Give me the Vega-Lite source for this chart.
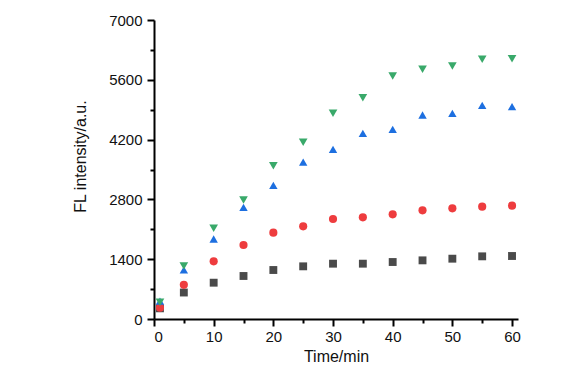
{
  "$schema": "https://vega.github.io/schema/vega-lite/v6.json",
  "width": 364,
  "height": 299,
  "autosize": {"type": "none"},
  "padding": {"left": 154, "top": 20, "right": 50, "bottom": 53},
  "background": "white",
  "config": {
    "view": {"stroke": null},
    "font": "Liberation Sans",
    "axis": {
      "domainColor": "black",
      "domainWidth": 2,
      "tickColor": "black",
      "tickWidth": 2,
      "grid": false,
      "labelColor": "#111111",
      "labelFont": "Liberation Sans",
      "labelFontSize": 15,
      "titleFont": "Liberation Sans",
      "titleFontSize": 16,
      "titleFontWeight": "normal",
      "titleColor": "#111111"
    }
  },
  "data": {
    "values": [
      {"series": "A", "time": 1, "fl": 250},
      {"series": "A", "time": 5, "fl": 620},
      {"series": "A", "time": 10, "fl": 850},
      {"series": "A", "time": 15, "fl": 1007},
      {"series": "A", "time": 20, "fl": 1147},
      {"series": "A", "time": 25, "fl": 1233},
      {"series": "A", "time": 30, "fl": 1295},
      {"series": "A", "time": 35, "fl": 1295},
      {"series": "A", "time": 40, "fl": 1334},
      {"series": "A", "time": 45, "fl": 1373},
      {"series": "A", "time": 50, "fl": 1412},
      {"series": "A", "time": 55, "fl": 1467},
      {"series": "A", "time": 60, "fl": 1475},
      {"series": "B", "time": 1, "fl": 265},
      {"series": "B", "time": 5, "fl": 800},
      {"series": "B", "time": 10, "fl": 1350},
      {"series": "B", "time": 15, "fl": 1732},
      {"series": "B", "time": 20, "fl": 2021},
      {"series": "B", "time": 25, "fl": 2169},
      {"series": "B", "time": 30, "fl": 2341},
      {"series": "B", "time": 35, "fl": 2380},
      {"series": "B", "time": 40, "fl": 2450},
      {"series": "B", "time": 45, "fl": 2544},
      {"series": "B", "time": 50, "fl": 2591},
      {"series": "B", "time": 55, "fl": 2630},
      {"series": "B", "time": 60, "fl": 2653},
      {"series": "C", "time": 1, "fl": 420},
      {"series": "C", "time": 5, "fl": 1150},
      {"series": "C", "time": 10, "fl": 1873},
      {"series": "C", "time": 15, "fl": 2615},
      {"series": "C", "time": 20, "fl": 3130},
      {"series": "C", "time": 25, "fl": 3675},
      {"series": "C", "time": 30, "fl": 3972},
      {"series": "C", "time": 35, "fl": 4347},
      {"series": "C", "time": 40, "fl": 4441},
      {"series": "C", "time": 45, "fl": 4776},
      {"series": "C", "time": 50, "fl": 4815},
      {"series": "C", "time": 55, "fl": 5003},
      {"series": "C", "time": 60, "fl": 4970},
      {"series": "D", "time": 1, "fl": 390},
      {"series": "D", "time": 5, "fl": 1240},
      {"series": "D", "time": 10, "fl": 2123},
      {"series": "D", "time": 15, "fl": 2786},
      {"series": "D", "time": 20, "fl": 3590},
      {"series": "D", "time": 25, "fl": 4136},
      {"series": "D", "time": 30, "fl": 4815},
      {"series": "D", "time": 35, "fl": 5181},
      {"series": "D", "time": 40, "fl": 5689},
      {"series": "D", "time": 45, "fl": 5845},
      {"series": "D", "time": 50, "fl": 5923},
      {"series": "D", "time": 55, "fl": 6079},
      {"series": "D", "time": 60, "fl": 6094}
    ]
  },
  "resolve": {"axis": {"x": "independent", "y": "independent"}},
  "layer": [
    {
      "mark": {"type": "point", "opacity": 0},
      "encoding": {
        "x": {
          "field": "time", "type": "quantitative",
          "scale": {"domain": [0, 61], "nice": false, "zero": false},
          "axis": {"orient": "bottom", "values": [5, 15, 25, 35, 45, 55], "labels": false, "tickSize": 4, "domain": false, "title": null}
        },
        "y": {
          "field": "fl", "type": "quantitative",
          "scale": {"domain": [0, 7000], "nice": false},
          "axis": {"orient": "left", "values": [700, 2100, 3500, 4900, 6300], "labels": false, "tickSize": 4, "domain": false, "title": null}
        }
      }
    },
    {
      "mark": {"type": "point", "filled": true, "opacity": 1},
      "encoding": {
        "x": {
          "field": "time", "type": "quantitative",
          "axis": {"orient": "bottom", "values": [0, 10, 20, 30, 40, 50, 60], "format": "d", "tickSize": 7, "labelPadding": 3, "title": "Time/min", "titleX": 182, "titleY": 42, "titleBaseline": "alphabetic", "titleAnchor": "middle"}
        },
        "y": {
          "field": "fl", "type": "quantitative",
          "axis": {"orient": "left", "values": [0, 1400, 2800, 4200, 5600, 7000], "format": "d", "tickSize": 7, "labelPadding": 5, "title": "FL intensity/a.u.", "titleX": -69, "titleY": 136, "titleAngle": -90, "titleBaseline": "alphabetic", "titleAlign": "center"}
        },
        "color": {
          "field": "series", "type": "nominal", "legend": null,
          "scale": {"domain": ["A", "B", "C", "D"], "range": ["#4a4a4a", "#ee3c3e", "#1d6fe0", "#39a96a"]}
        },
        "shape": {
          "field": "series", "type": "nominal", "legend": null,
          "scale": {"domain": ["A", "B", "C", "D"], "range": ["square", "circle", "triangle-up", "triangle-down"]}
        },
        "size": {
          "field": "series", "type": "nominal", "legend": null,
          "scale": {"domain": ["A", "B", "C", "D"], "range": [62, 75, 130, 130]}
        }
      }
    }
  ]
}
